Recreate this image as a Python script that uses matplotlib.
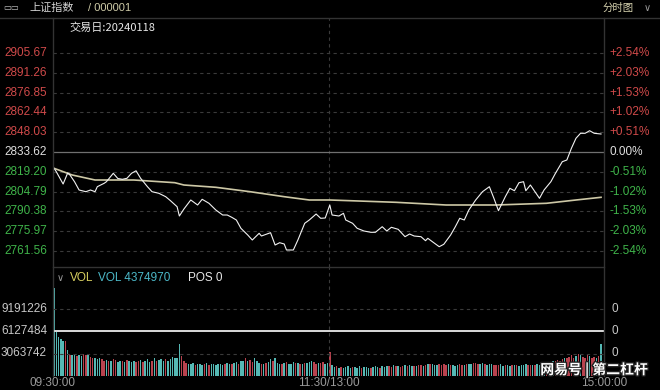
import numpy as np
import matplotlib
matplotlib.use('Agg')
import matplotlib.pyplot as plt
from matplotlib.lines import Line2D
import matplotlib.patheffects as pe

plt.rcParams['font.family'] = ['Liberation Sans', 'Noto Sans CJK SC']

# --- data ---
prev_close = 2833.62
price_ticks = [2905.67, 2891.26, 2876.85, 2862.44, 2848.03, 2833.62,
               2819.20, 2804.79, 2790.38, 2775.97, 2761.56]
pct_ticks = ['+2.54%', '+2.03%', '+1.53%', '+1.02%', '+0.51%', '0.00%',
             '-0.51%', '-1.02%', '-1.53%', '-2.03%', '-2.54%']

# minute index (0 = 09:30, 240 = 15:00) and price of the traced intraday line
price_min = [0, 1, 4, 6, 7, 9, 11, 14, 16, 18, 19, 22, 23, 26, 28, 30, 32, 34, 36, 38,
             41, 43, 46, 49, 51, 54, 55, 57, 60, 63, 65, 68, 71, 74, 76, 78, 80, 82, 85, 87,
             90, 91, 95, 97, 99, 101, 102, 105, 107, 110, 112, 115, 117, 119, 121, 122, 125,
             127, 128, 131, 133, 136, 139, 141, 144, 146, 148, 151, 154, 156, 158, 161, 163,
             164, 166, 169, 171, 174, 176, 178, 180, 182, 185, 188, 191, 193, 195, 198, 200,
             202, 204, 206, 207, 209, 211, 213, 215, 218, 220, 223, 225, 227, 229, 231, 233,
             235, 237, 240]
price = [2821.76, 2819.28, 2810.33, 2818.34, 2816.88, 2812.00, 2805.96, 2804.73, 2805.96,
         2804.73, 2808.37, 2810.84, 2812.00, 2818.12, 2814.33, 2813.75, 2814.48, 2818.12,
         2819.94, 2814.48, 2808.37, 2804.73, 2803.56, 2801.09, 2798.32, 2793.81, 2787.04,
         2792.14, 2798.69, 2795.05, 2799.20, 2796.28, 2791.41, 2787.77, 2787.77, 2786.09,
         2784.13, 2778.09, 2773.21, 2769.57, 2774.45, 2772.48, 2774.89, 2765.93, 2767.61,
         2766.66, 2762.30, 2762.30, 2769.57, 2781.73, 2784.13, 2788.50, 2785.37, 2785.59,
         2795.05, 2787.77, 2787.04, 2789.01, 2784.13, 2781.73, 2778.09, 2776.12, 2775.18,
         2775.18, 2779.25, 2776.12, 2778.82, 2777.36, 2771.98, 2773.94, 2772.48, 2771.98,
         2769.06, 2770.81, 2768.34, 2764.70, 2766.44, 2773.21, 2779.03, 2785.37, 2784.13,
         2791.41, 2798.69, 2804.73, 2808.37, 2799.92, 2790.90, 2801.09, 2807.20, 2805.45,
         2811.28, 2812.00, 2805.45, 2809.60, 2804.73, 2799.92, 2805.96, 2812.00, 2818.12,
         2826.56, 2827.80, 2836.31, 2843.59, 2847.23, 2847.23, 2849.12, 2847.23, 2846.72]

avg_min = [0, 8, 18, 35, 53, 57, 71, 86, 101, 112, 121, 150, 172, 194, 216, 229, 240]
avg_price = [2821.76, 2816.88, 2813.24, 2813.24, 2811.28, 2809.60, 2807.93, 2804.73,
             2801.09, 2798.69, 2798.69, 2797.01, 2795.05, 2795.05, 2796.28, 2798.69, 2800.65]

# volume per minute, in 10k shares
vol_wan = [1200, 600, 530, 500, 470, 480, 360, 290, 280, 285,
           275, 280, 270, 300, 290, 295, 260, 250, 240, 230,
           250, 230, 210, 220, 200, 205, 230, 215, 190, 200,
           210, 195, 220, 200, 185, 210, 195, 205, 215, 190,
           200, 230, 195, 210, 240, 205, 215, 230, 200, 225,
           210, 235, 260, 245, 250, 440, 270, 200, 180, 170,
           160, 175, 150, 165, 170, 155, 160, 175, 150, 165,
           160, 150, 170, 165, 155, 160, 175, 170, 165, 180,
           190, 170, 200, 210, 240, 200, 220, 190, 250, 210,
           180, 170, 160, 175, 190, 230, 200, 240, 180, 170,
           160, 175, 185, 165, 170, 190, 180, 175, 170, 165,
           180, 175, 190, 200, 185, 170, 180, 175, 190, 170,
           180, 330, 150, 120, 130, 110, 125, 115, 120, 130,
           110, 125, 120, 115, 130, 110, 120, 125, 115, 110,
           120, 130, 125, 115, 140, 120, 130, 135, 125, 150,
           130, 140, 125, 135, 145, 130, 150, 140, 135, 130,
           145, 150, 140, 155, 160, 165, 170, 150, 145, 160,
           155, 165, 150, 160, 145, 155, 140, 150, 160, 145,
           155, 165, 170, 160, 175, 180, 165, 170, 175, 160,
           150, 165, 160, 155, 145, 150, 160, 140, 150, 145,
           140, 150, 145, 155, 140, 150, 145, 160, 155, 150,
           145, 155, 160, 150, 165, 170, 175, 180, 190, 200,
           210, 220, 200, 230, 250, 240, 260, 280, 250, 270,
           300, 280, 260, 250, 280, 270, 250, 260, 240, 270,
           440]
# r = up minute, g = down minute
vol_dir = ("gggggrgrgg" "rggrrgrrgg" "grrgrgrrgg" "rgrgggrrgr" "gggrgrgggr"
           "ggggggrrrg" "ggrgggrgrg" "gggggrggrg" "grggrgrrgg" "grgrggrggg"
           "rgrgggrgrg" "rgggrrgrrg" "grggrgrggg" "grgggrgggr" "gggrgggrrg"
           "rgrrgrggrg" "rrgrgrgggr" "rrrgrgggrr" "grggrrrggr" "gggrrrggrg"
           "grgrggggrr" "grggrgrrgg" "rrrrgrrrrg" "rgrrrgrrgr" "g")
vol_ticks = [9191226, 6127484, 3063742]

# --- layout ---
W, H = 660, 390
bg = '#000000'
grid_c = '#3a3a3a'
frame_c = '#333333'
red_c = '#d04a4a'
green_c = '#3fb44a'

fig = plt.figure(figsize=(6.6, 3.9), dpi=100, facecolor=bg)


def fx(px):
    return px / W


def fy(py):
    return 1 - py / H


ax = fig.add_axes([fx(53), fy(267), fx(551), (267 - 18) / H], facecolor=bg)
axv = fig.add_axes([fx(53), fy(376), fx(551), (376 - 267) / H], facecolor=bg)

step = price_ticks[0] - price_ticks[1]
ax.set_ylim(prev_close - 115 / 19.8 * step, prev_close + 134 / 19.8 * step)
xl = (-0.44, 241.3)
ax.set_xlim(*xl)
axv.set_xlim(*xl)
axv.set_ylim(0, 109 / 22.5 * vol_ticks[2])

for a in (ax, axv):
    for s in a.spines.values():
        s.set_visible(False)
    a.set_xticks([])
    a.set_yticks([])
    a.axvline(120.5, color=grid_c, lw=0.8, ls=(0, (3, 3)))

# price panel grid and labels
for v, pct in zip(price_ticks, pct_ticks):
    if v == prev_close:
        ax.axhline(v, color='#707070', lw=0.9)
        col = '#e0e0e0'
    else:
        ax.axhline(v, color=grid_c, lw=0.8, ls=(0, (3, 3)))
        col = red_c if v > prev_close else green_c
    ax.text(-6 / 551, v, '%.2f' % v, transform=ax.get_yaxis_transform(),
            ha='right', va='center', color=col, fontsize=8.5)
    ax.text(1 + 5 / 551, v, pct, transform=ax.get_yaxis_transform(),
            ha='left', va='center', color=col, fontsize=8.5)

ax.plot(avg_min, avg_price, color='#cdc8a6', lw=1.2)
ax.plot(price_min, price, color='#f2f2f2', lw=0.8)

# volume panel
for v in vol_ticks:
    if v == vol_ticks[1]:
        axv.axhline(v, color='#ffffff', lw=1.2)
    else:
        axv.axhline(v, color=grid_c, lw=0.8, ls=(0, (3, 3)))
    axv.text(-6 / 551, v, str(v), transform=axv.get_yaxis_transform(),
             ha='right', va='center', color='#c8c8c8', fontsize=8.5)
    axv.text(1 + 8 / 551, v, '0', transform=axv.get_yaxis_transform(),
             ha='left', va='center', color='#c8c8c8', fontsize=8.5)

volume = np.array(vol_wan) * 1e4
minutes = np.arange(len(volume))
colors = ['#b8424e' if d == 'r' else '#55b8b4' for d in vol_dir]
axv.bar(minutes, volume, width=0.65, color=colors, linewidth=0)

# frame lines
frame = [((0, W), (17.5, 17.5)), ((53, 53), (17.5, 376)), ((604, 604), (17.5, 376)),
         ((53, 604), (267, 267))]
for xs, ys in frame:
    fig.add_artist(Line2D([fx(x) for x in xs], [fy(y) for y in ys], color=frame_c, lw=1))

# header
fig.text(fx(3), fy(8), '▭▭', color='#c8c8c8', fontsize=6, va='center',
         family=['DejaVu Sans'])
fig.text(fx(29), fy(8), '上证指数', color='#d4d4d4', fontsize=8, va='center',
         family=['Noto Sans CJK SC'])
fig.text(fx(88), fy(8), '/ 000001', color='#cfcca8', fontsize=8, va='center')
fig.text(fx(603), fy(8), '分时图', color='#d8d4b0', fontsize=7.5, va='center',
         family=['Noto Sans CJK SC'])
fig.text(fx(644), fy(8), '∨', color='#9a9a9a', fontsize=7, va='center',
         family=['DejaVu Sans'])
fig.text(fx(69), fy(28), '交易日:20240118', color='#e8e8e8', fontsize=8, va='center',
         family=['Noto Sans CJK SC', 'DejaVu Sans'])

# volume header
fig.text(fx(57), fy(278), '∨', color='#9a9a9a', fontsize=7, va='center',
         family=['DejaVu Sans'])
fig.text(fx(70), fy(278), 'VOL', color='#d8d060', fontsize=8.5, va='center')
fig.text(fx(98), fy(278), 'VOL 4374970', color='#4cb8c8', fontsize=8.5, va='center')
fig.text(fx(188), fy(278), 'POS 0', color='#e8e8e8', fontsize=8.5, va='center')

# time axis
for xp, lab in [(52.5, '09:30:00'), (329, '11:30/13:00'), (604, '15:00:00')]:
    fig.text(fx(xp), fy(383), lab, color='#9a9a9a', fontsize=8.5, ha='center', va='center')

# watermark
fig.text(fx(594), fy(370), '网易号 | 第二杠杆', color='white', fontsize=10, fontweight='bold',
         ha='center', va='center', family=['Noto Sans CJK SC'],
         path_effects=[pe.withStroke(linewidth=2, foreground='#202020')])

fig.savefig('out.png', dpi=100, facecolor=bg)
